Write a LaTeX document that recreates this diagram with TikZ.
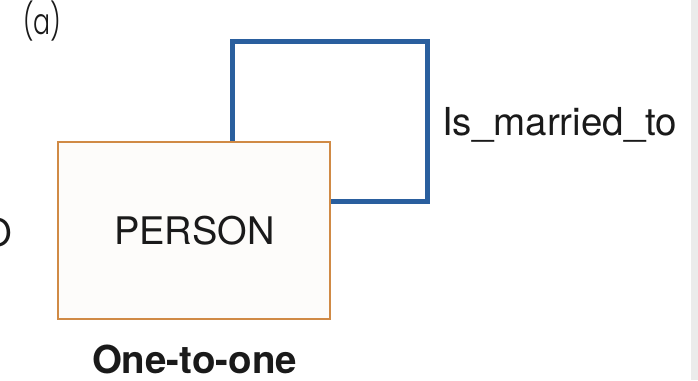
\documentclass[tikz,border=0pt]{standalone}
\usepackage{fontspec}
\setmainfont{TeX Gyre Heros}
\newfontfamily\popfont{Poppins}[UprightFont=* Light]
\definecolor{rel}{HTML}{2A5F9E}
\definecolor{entbd}{HTML}{D08A45}
\definecolor{entfill}{HTML}{FDFCFA}
\definecolor{txt}{HTML}{1A1A1A}
\definecolor{strip}{HTML}{EBEBEB}
\begin{document}
\begin{tikzpicture}[x=1pt,y=-1pt,
  entity/.style={draw=entbd,fill=entfill,line width=2pt,minimum width=272pt,minimum height=177pt,inner sep=0pt,text=txt,font=\fontsize{38}{40}\selectfont},
  relline/.style={draw=rel,line width=5pt,line cap=butt,line join=miter},
  lbl/.style={text=txt,inner sep=0pt,font=\fontsize{38}{40}\selectfont}]
\useasboundingbox (0,0) rectangle (698,380);
\fill[white] (0,0) rectangle (698,380);
\fill[strip] (691,0) rectangle (698,380);
\node[lbl,anchor=base east] (cut) at (12,246) {O};
\node[lbl,anchor=north west,font=\popfont\fontsize{36}{40}\selectfont] (tag) at (23,1) {\scalebox{0.7}[1]{(a)}};
\coordinate (tr) at (427.3,41);
\coordinate (lx) at (232,0);
\node[entity] (person) at (194.4,230.5) {PERSON};
\draw[relline] (person.north -| lx) |- (tr) |- ([yshift=29pt]person.east);
\node[lbl,anchor=base west,font=\fontsize{38.5}{40}\selectfont] (relname) at (442,135) {Is\_married\_to};
\node[lbl,anchor=base,font=\bfseries\fontsize{38.5}{40}\selectfont] (card) at (194.5,373) {One-to-one};
\end{tikzpicture}
\end{document}
